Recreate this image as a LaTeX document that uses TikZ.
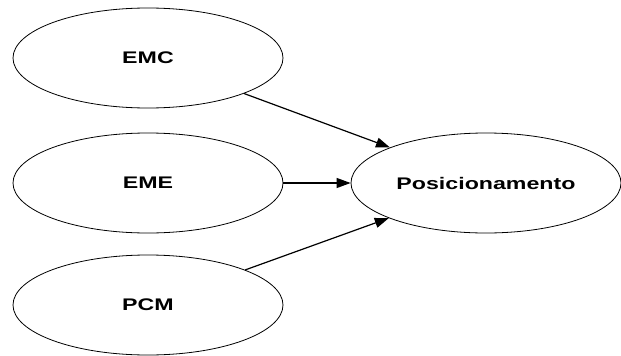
\documentclass[tikz,border=0pt]{standalone}
\usepackage{fontspec}
\setmainfont{Liberation Sans}
\newfontfamily\labelfont[FakeStretch=1.38]{Liberation Sans}
\usetikzlibrary{shapes.geometric, arrows.meta, positioning}

\begin{document}
\begin{tikzpicture}[x=1pt, y=-1pt,
            construct/.style={ellipse, draw=black, line width=0.8pt, minimum width=270pt, minimum height=100pt, inner sep=0pt, align=center, font=\labelfont\fontsize{16.8}{18}\selectfont\bfseries},
            path/.style={-{Triangle[length=14pt, width=10pt]}, line width=1.2pt}
        ]

\useasboundingbox (0,0) rectangle (621,356);

% Exogenous constructs
            \node[construct] (emc) at (148,58) {EMC};
            \node[construct] (eme) at (148,183) {EME};
            \node[construct] (pcm) at (148,305) {PCM};

% Endogenous construct
            \node[construct] (pos) at (486,183) {Posicionamento};

% Paths
            \draw[path] (emc) -- (pos);
            \draw[path] (eme) -- (pos);
            \draw[path] (pcm) -- (pos);

        \end{tikzpicture}
\end{document}
